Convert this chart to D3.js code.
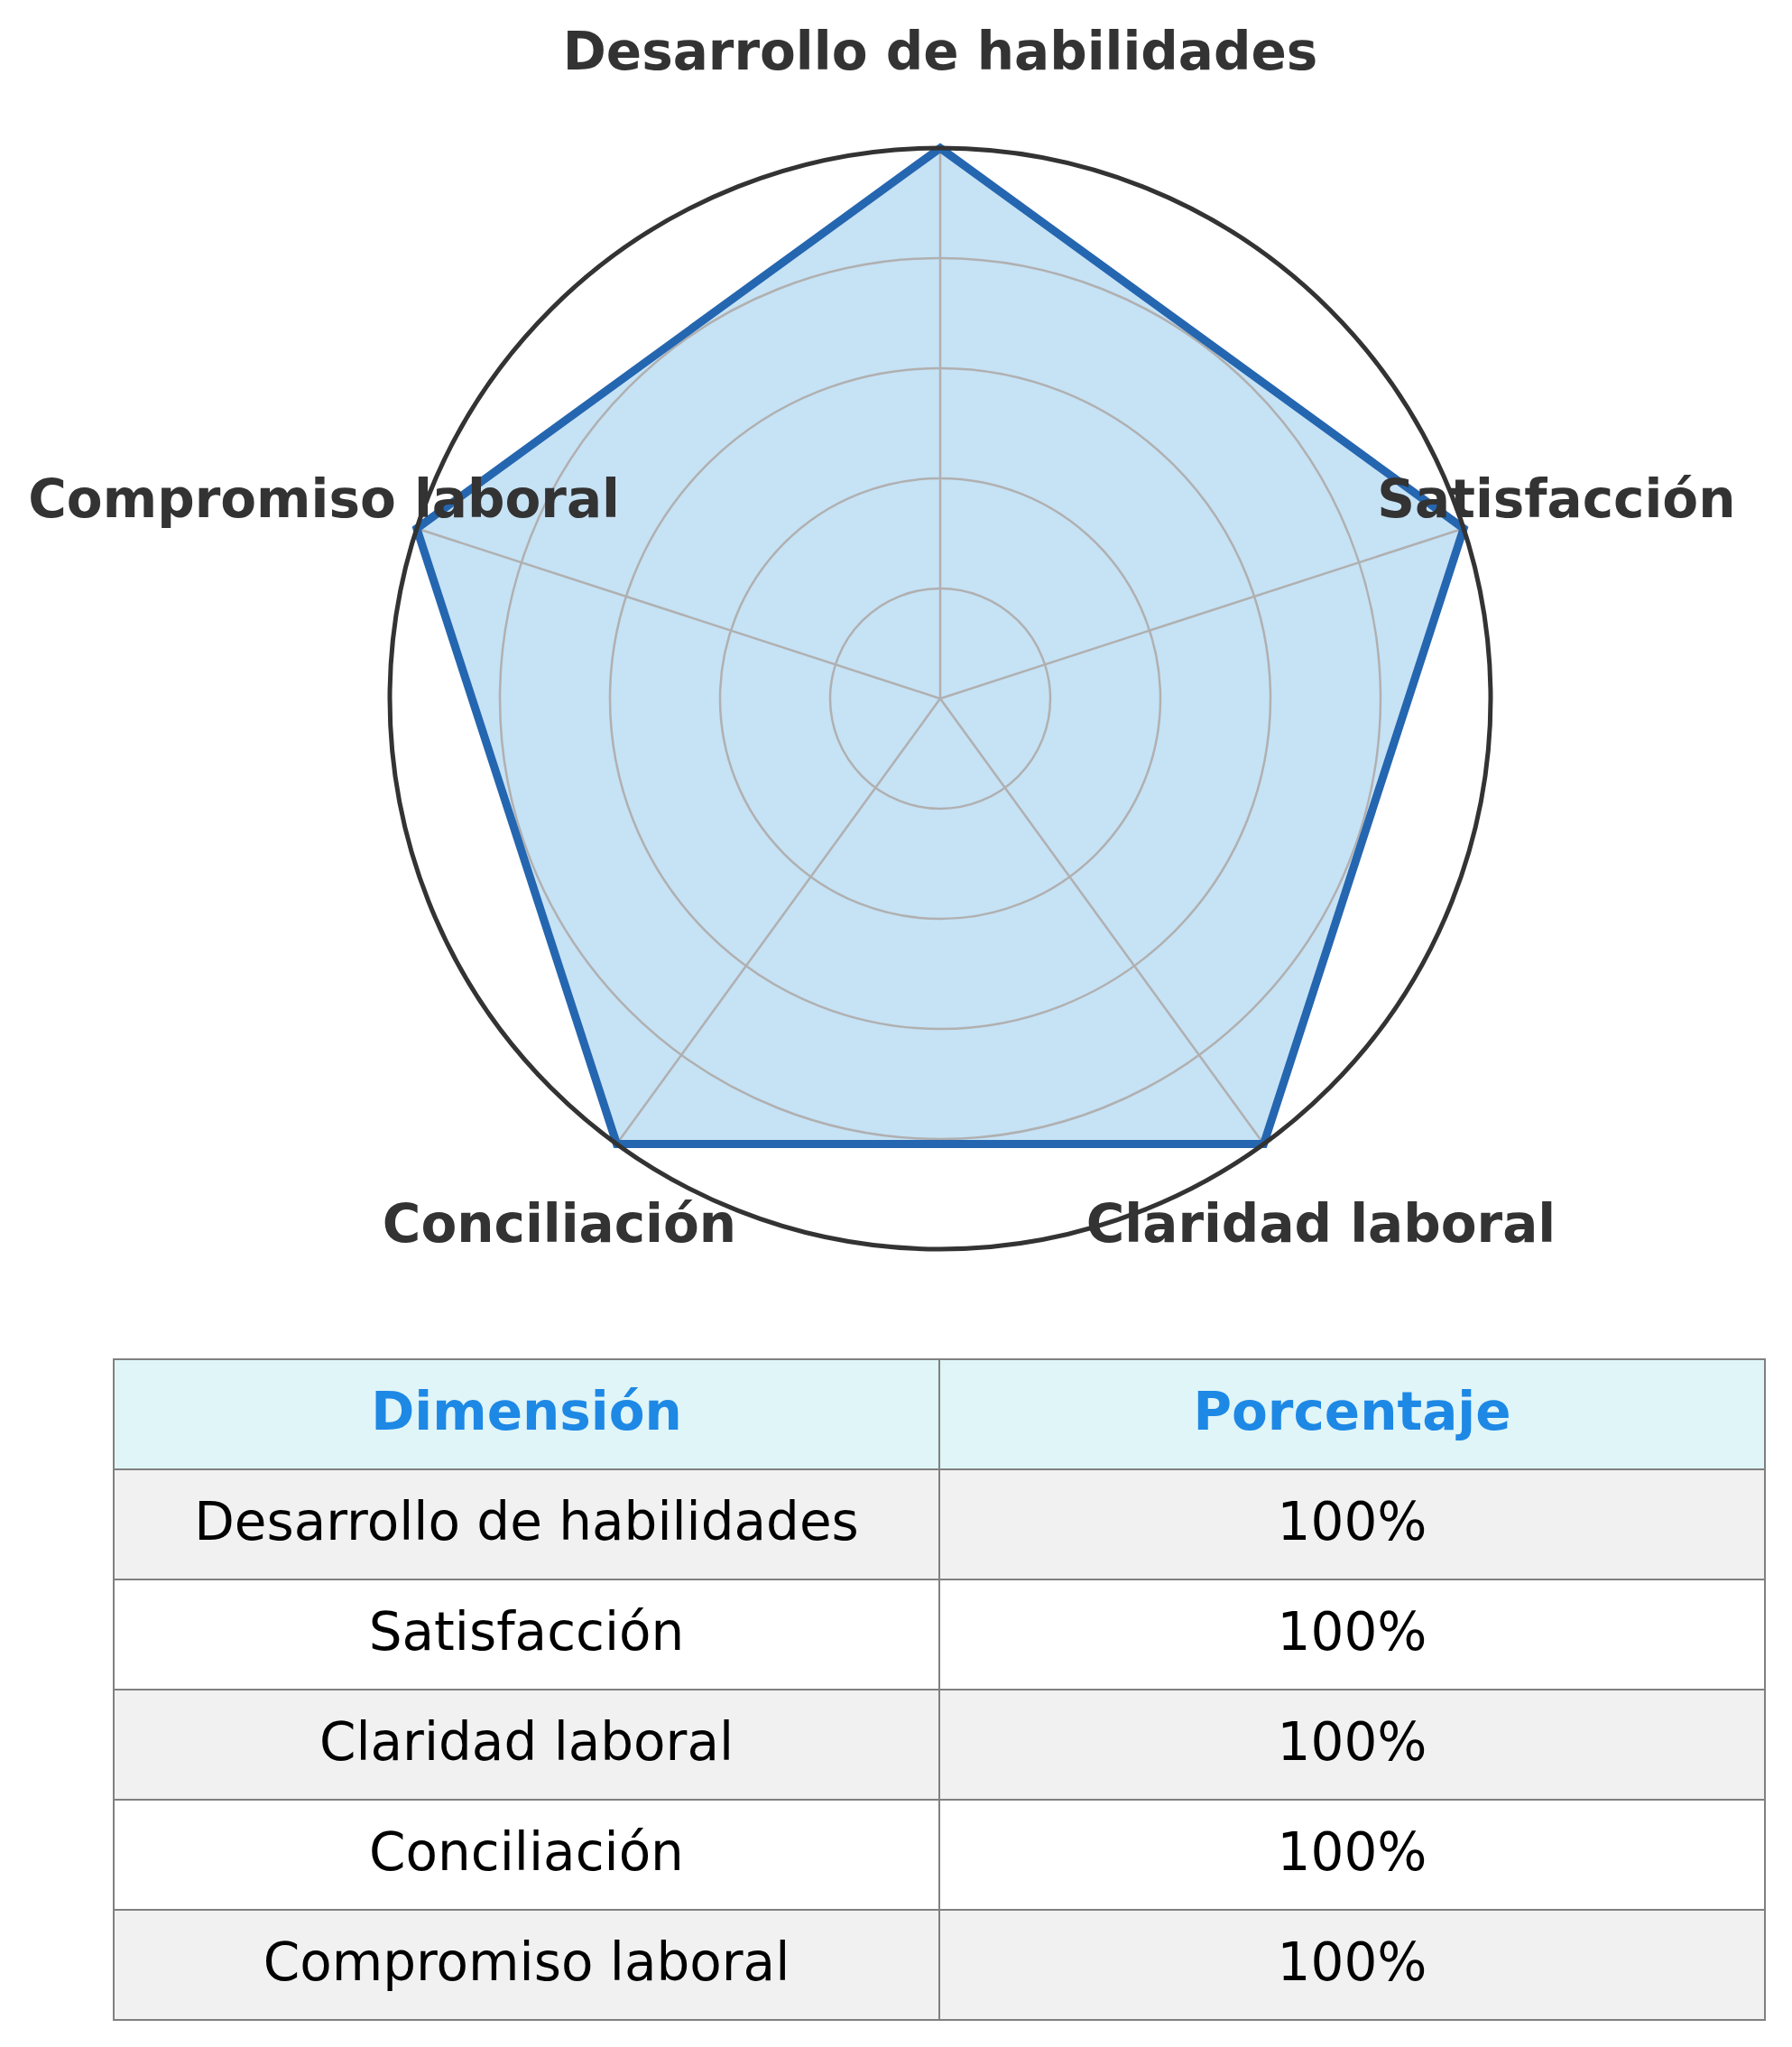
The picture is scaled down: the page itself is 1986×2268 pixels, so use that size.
<!DOCTYPE html>
<html>
<head>
<meta charset="utf-8">
<script src="https://cdn.jsdelivr.net/npm/d3@7"></script>
<style>
  html, body { margin: 0; padding: 0; background: #ffffff; }
  svg { display: block; font-family: "DejaVu Sans", sans-serif; }
</style>
</head>
<body>
<svg id="chart" width="1986" height="2268"></svg>
<script>
// ---- data ----
const categories = ["Desarrollo de habilidades", "Satisfacción", "Claridad laboral", "Conciliación", "Compromiso laboral"];
const values = [100, 100, 100, 100, 100];
const gridTicks = [20, 40, 60, 80, 100];
const tableHeaders = ["Dimensión", "Porcentaje"];
const tableValues = ["100%", "100%", "100%", "100%", "100%"];

// ---- layout ----
const svg = d3.select("#chart");
const cx = 1042, cy = 774, R = 610;
const labelR = 718;
const fontSize = 58;

const r = d3.scaleLinear().domain([0, 100]).range([0, R]);
const angle = d3.scaleBand().domain(categories).range([0, 2 * Math.PI]).align(0).paddingInner(0).paddingOuter(0);
const ang = c => angle(c); // radians clockwise from top

const g = svg.append("g").attr("transform", `translate(${cx},${cy})`);

// filled area
const radial = d3.lineRadial()
  .angle(d => ang(d.c))
  .radius(d => r(d.v))
  .curve(d3.curveLinearClosed);
const pts = categories.map((c, i) => ({c, v: values[i]}));

g.append("path")
  .attr("d", radial(pts))
  .attr("fill", "#c6e2f5")
  .attr("stroke", "none");

// grid circles
g.selectAll("circle.grid")
  .data(gridTicks.slice(0, -1))
  .join("circle")
  .attr("class", "grid")
  .attr("r", d => r(d))
  .attr("fill", "none")
  .attr("stroke", "#b0b0b0")
  .attr("stroke-width", 2.5);

// spokes
g.selectAll("line.spoke")
  .data(categories)
  .join("line")
  .attr("class", "spoke")
  .attr("x1", 0).attr("y1", 0)
  .attr("x2", c => r(100) * Math.sin(ang(c)))
  .attr("y2", c => -r(100) * Math.cos(ang(c)))
  .attr("stroke", "#b0b0b0")
  .attr("stroke-width", 2.5);

// polygon outline
g.append("path")
  .attr("d", radial(pts))
  .attr("fill", "none")
  .attr("stroke", "#2566b0")
  .attr("stroke-width", 9)
  .attr("stroke-linejoin", "miter");

// outer spine circle
g.append("circle")
  .attr("r", r(100))
  .attr("fill", "none")
  .attr("stroke", "#333333")
  .attr("stroke-width", 5);

// axis labels
g.selectAll("text.axlabel")
  .data(categories)
  .join("text")
  .attr("class", "axlabel")
  .attr("x", c => labelR * Math.sin(ang(c)))
  .attr("y", c => -labelR * Math.cos(ang(c)))
  .attr("dy", "0.36em")
  .attr("text-anchor", "middle")
  .attr("font-size", fontSize)
  .attr("font-weight", "bold")
  .attr("fill", "#333333")
  .text(c => c);

// ---- table ----
const tX0 = 126, tX1 = 1956, tY0 = 1506, rowH = 122;
const nRows = categories.length + 1;
const col = d3.scaleBand().domain([0, 1]).range([tX0, tX1]);
const row = d3.scaleBand().domain(d3.range(nRows)).range([tY0, tY0 + rowH * nRows]);

const rows = [tableHeaders].concat(categories.map((c, i) => [c, tableValues[i]]));
const tg = svg.append("g");

rows.forEach((rw, ri) => {
  rw.forEach((txt, ci) => {
    const fill = ri === 0 ? "#dff5f8" : (ri % 2 === 1 ? "#f1f1f1" : "#ffffff");
    tg.append("rect")
      .attr("x", col(ci)).attr("y", row(ri))
      .attr("width", col.bandwidth()).attr("height", row.bandwidth())
      .attr("fill", fill)
      .attr("stroke", "#808080")
      .attr("stroke-width", 2);
    tg.append("text")
      .attr("x", col(ci) + col.bandwidth() / 2)
      .attr("y", row(ri) + row.bandwidth() / 2 + 17)
      .attr("text-anchor", "middle")
      .attr("font-size", fontSize)
      .attr("font-weight", ri === 0 ? "bold" : "normal")
      .attr("fill", ri === 0 ? "#1e88e5" : "#000000")
      .text(txt);
  });
});
</script>
</body>
</html>
